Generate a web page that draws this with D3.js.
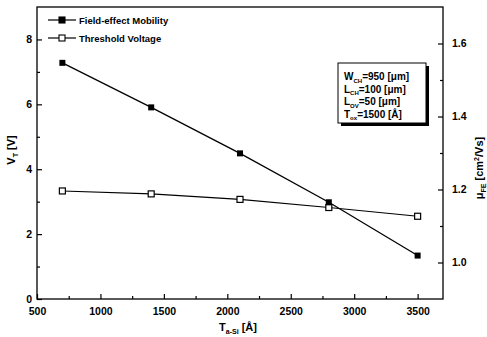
<!DOCTYPE html>
<html>
<head>
<meta charset="utf-8">
<script src="https://cdnjs.cloudflare.com/ajax/libs/d3/7.8.5/d3.min.js"></script>
<style>
  body { margin: 0; background: #fff; }
  text { font-family: "Liberation Sans", Arial, sans-serif; font-weight: bold; fill: #000; }
</style>
</head>
<body>
<script>
// data
var thickness = [700, 1400, 2100, 2800, 3500];        // T a-Si [Å]
var thresholdV = [3.33, 3.24, 3.07, 2.82, 2.55];      // V_T [V], left axis
var mobility = [1.547, 1.425, 1.299, 1.165, 1.019];   // μFE [cm²/Vs], right axis
var xTicks = [500, 1000, 1500, 2000, 2500, 3000, 3500];
var yLeftTicks = [0, 2, 4, 6, 8];
var yRightTicks = [1.0, 1.2, 1.4, 1.6];

var width = 487, height = 337;
// note: "top" is reserved on window, so use plot* names
var plotL = 37, plotR = 443, plotT = 7, plotB = 299;

var svg = d3.select("body").append("svg")
    .attr("width", width)
    .attr("height", height);

var x = d3.scaleLinear().domain([500, 3700]).range([plotL, plotR]);
var yL = d3.scaleLinear().domain([0, 9]).range([plotB, plotT]);
var yR = d3.scaleLinear().domain([0.9, 1.7]).range([plotB, plotT]);

// frame
svg.append("rect")
    .attr("x", plotL).attr("y", plotT)
    .attr("width", plotR - plotL).attr("height", plotB - plotT)
    .attr("fill", "none").attr("stroke", "#000").attr("stroke-width", 1.3);

// axes, ticks inward
function styleAxis(g) {
    g.select(".domain").remove();
    g.selectAll("line").attr("stroke", "#000").attr("stroke-width", 1.2);
    g.selectAll("text").style("font-size", "10.5px");
}
function isMajor(list, d) { return list.some(v => Math.abs(v - d) < 1e-9); }

svg.append("g")
    .attr("transform", "translate(0," + plotB + ")")
    .call(d3.axisBottom(x).tickValues(d3.range(500, 3701, 250)).tickSize(-5)
        .tickFormat(d => isMajor(xTicks, d) ? d : "").tickPadding(9))
    .call(styleAxis)
    .call(g => g.selectAll(".tick").filter(d => !isMajor(xTicks, d)).select("line").attr("y2", -3));

svg.append("g")
    .attr("transform", "translate(" + plotL + ",0)")
    .call(d3.axisLeft(yL).tickValues(d3.range(0, 9, 1)).tickSize(-5)
        .tickFormat(d => isMajor(yLeftTicks, d) ? d : "").tickPadding(5))
    .call(styleAxis)
    .call(g => g.selectAll(".tick").filter(d => !isMajor(yLeftTicks, d)).select("line").attr("x2", 3));

svg.append("g")
    .attr("transform", "translate(" + plotR + ",0)")
    .call(d3.axisRight(yR).tickValues([1.0, 1.1, 1.2, 1.3, 1.4, 1.5, 1.6]).tickSize(-5)
        .tickFormat(d => isMajor(yRightTicks, d) ? d3.format(".1f")(d) : "").tickPadding(9))
    .call(styleAxis)
    .call(g => g.selectAll(".tick").filter(d => !isMajor(yRightTicks, d)).select("line").attr("x2", -3));

// series
var lineV = d3.line().x((d, i) => x(thickness[i])).y(d => yL(d));
var lineM = d3.line().x((d, i) => x(thickness[i])).y(d => yR(d));

svg.append("path").datum(thresholdV)
    .attr("d", lineV).attr("fill", "none").attr("stroke", "#000").attr("stroke-width", 1.1);
svg.append("path").datum(mobility)
    .attr("d", lineM).attr("fill", "none").attr("stroke", "#000").attr("stroke-width", 1.3);

var s = 6;
svg.selectAll(".mV").data(thresholdV).enter().append("rect")
    .attr("x", (d, i) => x(thickness[i]) - s / 2).attr("y", d => yL(d) - s / 2)
    .attr("width", s).attr("height", s)
    .attr("fill", "#fff").attr("stroke", "#000").attr("stroke-width", 1.2);
svg.selectAll(".mM").data(mobility).enter().append("rect")
    .attr("x", (d, i) => x(thickness[i]) - s / 2).attr("y", d => yR(d) - s / 2)
    .attr("width", s).attr("height", s)
    .attr("fill", "#000");

// legend
var legend = [
    {label: "Field-effect Mobility", fill: "#000", y: 20},
    {label: "Threshold Voltage", fill: "#fff", y: 38}
];
legend.forEach(function(l) {
    svg.append("line").attr("x1", 48).attr("x2", 76).attr("y1", l.y).attr("y2", l.y)
        .attr("stroke", "#000").attr("stroke-width", 1.2);
    svg.append("rect").attr("x", 62 - s / 2).attr("y", l.y - s / 2).attr("width", s).attr("height", s)
        .attr("fill", l.fill).attr("stroke", "#000").attr("stroke-width", 1.1);
    svg.append("text").attr("x", 79).attr("y", l.y + 3.5)
        .style("font-size", "9.5px").text(l.label);
});

// inset parameter box
svg.append("rect").attr("x", 341).attr("y", 66).attr("width", 88).attr("height", 60).attr("fill", "#000");
svg.append("rect").attr("x", 338).attr("y", 63).attr("width", 88).attr("height", 60)
    .attr("fill", "#fff").attr("stroke", "#000").attr("stroke-width", 1);

var params = [
    ["W", "CH", "=950 [μm]"],
    ["L", "CH", "=100 [μm]"],
    ["L", "OV", "=50 [μm]"],
    ["T", "ox", "=1500 [Å]"]
];
params.forEach(function(p, i) {
    var t = svg.append("text").attr("x", 344).attr("y", 80 + i * 12.5).style("font-size", "10px");
    t.append("tspan").text(p[0]);
    t.append("tspan").attr("dy", 2.5).style("font-size", "6px").text(p[1]);
    t.append("tspan").attr("dy", -2.5).text(p[2]);
});

// axis titles
var xt = svg.append("text").attr("x", 238).attr("y", 331).attr("text-anchor", "middle").style("font-size", "11px");
xt.append("tspan").text("T");
xt.append("tspan").attr("dy", 3).style("font-size", "7px").text("a-Si");
xt.append("tspan").attr("dy", -3).text(" [Å]");

var yt = svg.append("text").attr("transform", "translate(15,150) rotate(-90)")
    .attr("text-anchor", "middle").style("font-size", "11px");
yt.append("tspan").text("V");
yt.append("tspan").attr("dy", 3).style("font-size", "7px").text("T");
yt.append("tspan").attr("dy", -3).text(" [V]");

var rt = svg.append("text").attr("transform", "translate(483,168) rotate(-90)")
    .attr("text-anchor", "middle").style("font-size", "11px");
rt.append("tspan").text("μ");
rt.append("tspan").attr("dy", 3).style("font-size", "7px").text("FE");
rt.append("tspan").attr("dy", -3).text(" [cm");
rt.append("tspan").attr("dy", -4).style("font-size", "7px").text("2");
rt.append("tspan").attr("dy", 4).text("/Vs]");
</script>
</body>
</html>
